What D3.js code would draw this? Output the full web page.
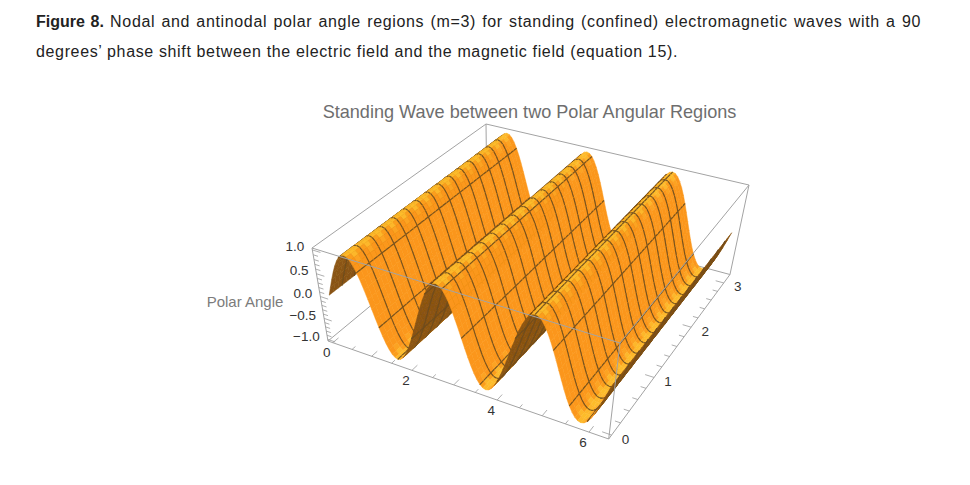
<!DOCTYPE html>
<html><head><meta charset="utf-8">
<script src="https://cdn.jsdelivr.net/npm/d3@7"></script>
<style>html,body{margin:0;padding:0;background:#fff}svg{display:block}text{font-family:"Liberation Sans",Arial,sans-serif}</style>
</head><body><svg id="c" width="970" height="485"><defs><filter id="soft" x="-5%" y="-5%" width="110%" height="110%"><feGaussianBlur stdDeviation="0.3"/></filter></defs></svg>
<script>
// ---- data ----
const captionBold = "Figure 8.";
const captionLine1 = " Nodal and antinodal polar angle regions (m=3) for standing (confined) electromagnetic waves with a 90";
const captionLine2 = "degrees\u2019 phase shift between the electric field and the magnetic field (equation 15).";
const chartTitle = "Standing Wave between two Polar Angular Regions";
const zAxisTitle = "Polar Angle";
const xRange = [0, 2 * Math.PI];
const yRange = [0, Math.PI];
const xBox = [-0.126, 6.409];
const yBox = [-0.063, 3.205];
const zBox = [-1.04, 1.04];
// wave height across the ridges, 97 samples across the x range
const waveHeight = [
 0,.195,.383,.556,.707,.831,.924,.981,1,.981,.924,.831,.707,.556,.383,.195,
 0,-.195,-.383,-.556,-.707,-.831,-.924,-.981,-1,-.981,-.924,-.831,-.707,-.556,-.383,-.195,
 0,.195,.383,.556,.707,.831,.924,.981,1,.981,.924,.831,.707,.556,.383,.195,
 0,-.195,-.383,-.556,-.707,-.831,-.924,-.981,-1,-.981,-.924,-.831,-.707,-.556,-.383,-.195,
 0,.195,.383,.556,.707,.831,.924,.981,1,.981,.924,.831,.707,.556,.383,.195,
 0,-.195,-.383,-.556,-.707,-.831,-.924,-.981,-1,-.981,-.924,-.831,-.707,-.556,-.383,-.195,
 0];
const yStations = 45;      // cells along the ridges
const xMeshEvery = 6, yMeshEvery = 3; // mesh line spacing, in cells

// ---- view: where the box corners fall on the page ----
const O=[312,248], Pu=[620,343], Pv=[486,124], P11=[749,185], Pw=[328,341], Q=[613,439];
const sub=(p,q)=>[p[0]-q[0],p[1]-q[1]];
const r1=[Pu[0]+Pv[0]-O[0]-P11[0],Pu[1]+Pv[1]-O[1]-P11[1]];
const A1=sub(P11,Pu),B1=sub(P11,Pv),det=A1[0]*B1[1]-A1[1]*B1[0];
const a=(r1[0]*B1[1]-r1[1]*B1[0])/det,b=(A1[0]*r1[1]-A1[1]*r1[0])/det;
const c=((1+a)*Pu[1]+Pw[1]-O[1]-(1+a)*Q[1])/(Q[1]-Pw[1]);
function proj(u,v,w){
  const d=1+a*u+b*v+c*w;
  return [0,1].map(i=>(O[i]+u*((1+a)*Pu[i]-O[i])+v*((1+b)*Pv[i]-O[i])+w*((1+c)*Pw[i]-O[i]))/d);
}
const sx=d3.scaleLinear().domain(xBox).range([0,1]);
const sy=d3.scaleLinear().domain(yBox).range([0,1]);
const sz=d3.scaleLinear().domain(zBox).range([1,0]);
const P=(x,y,z)=>proj(sx(x),sy(y),sz(z));
const xGrid=d3.scaleLinear().domain([0,waveHeight.length-1]).range(xRange);
const yGrid=d3.scaleLinear().domain([0,yStations]).range(yRange);

const svg=d3.select("#c");
const line=d3.line();
const edge=(g,p,q,col="#a3a3a3",w=1)=>g.append("line").attr("x1",p[0]).attr("y1",p[1]).attr("x2",q[0]).attr("y2",q[1]).attr("stroke",col).attr("stroke-width",w);
const [x0,x1]=xBox,[y0,y1]=yBox,[z0,z1]=zBox;

// back edges
const back=svg.append("g");
[[[x0,y1,z1],[x1,y1,z1]],[[x0,y0,z1],[x0,y1,z1]],[[x0,y1,z0],[x0,y1,z1]],[[x1,y1,z0],[x1,y1,z1]],[[x0,y1,z0],[x1,y1,z0]],[[x0,y0,z0],[x0,y1,z0]]]
 .forEach(([p,q])=>edge(back,P(...p),P(...q)));

// surface
const surf=svg.append("g").attr("filter","url(#soft)");
const topCol=d3.interpolateRgb("#fb961a","#fdbc2c");
const underCol=d3.interpolateRgb("#7c4a10","#a86c18");
const nRows=yStations,nCols=waveHeight.length-1;
const m="#6b4c20";
const clamp=d3.scaleLinear().domain([0,1]).range([0,1]).clamp(true);
for(let j=nRows-1;j>=0;j--){
  let prevTop=null;
  for(let i=0;i<nCols;i++){
    const xa=xGrid(i),xb=xGrid(i+1),ya=yGrid(j),yb=yGrid(j+1);
    const za=waveHeight[i],zb=waveHeight[i+1];
    const p00=P(xa,ya,za),p10=P(xb,ya,zb),p11=P(xb,yb,zb),p01=P(xa,yb,za);
    const e=sub(p11,p00),f=sub(p01,p10);
    const cross=e[0]*f[1]-e[1]*f[0];
    const slope=(zb-za)/(xb-xa);
    const flat=1/Math.sqrt(1+slope*slope*1.2);
    const phase=((j+.5)/yMeshEvery)%1;
    const thr=.42+.35*Math.abs(phase-.5)*2;   // highlight scallops between mesh lines
    const isTop=cross<0;
    const col=isTop?topCol(clamp((flat-thr)/.35)):underCol(flat*.9);
    surf.append("path").attr("d",line([p00,p10,p11,p01])+"Z").attr("fill",col).attr("stroke",col).attr("stroke-width",.5);
    if(prevTop===false&&isTop&&i>nCols/3) edge(surf,p00,p01,"#74470f",1.4);
    if(j%yMeshEvery===0&&j>0) edge(surf,p00,p10,m,1.05).attr("stroke-opacity",.9);
    if((j+1)%yMeshEvery===0&&j+1<nRows) edge(surf,p01,p11,m,1.05).attr("stroke-opacity",.9);
    if(i%xMeshEvery===0&&i>0) edge(surf,p00,p01,m,1.05).attr("stroke-opacity",.9);
    if((i+1)%xMeshEvery===0&&i+1<nCols) edge(surf,p10,p11,m,1.05).attr("stroke-opacity",.9);
    prevTop=isTop;
  }
}

// front edges
const front=svg.append("g");
[[[x0,y0,z1],[x1,y0,z1]],[[x1,y0,z1],[x1,y1,z1]],[[x1,y0,z0],[x1,y0,z1]],[[x0,y0,z0],[x1,y0,z0]],[[x1,y0,z0],[x1,y1,z0]],[[x0,y0,z0],[x0,y0,z1]]]
 .forEach(([p,q])=>edge(front,P(...p),P(...q)));

// axes: ticks and labels through the scales
const tickCol="#9a9a9a",labelCol="#333",fs=13.5;
const label=(p,dx,dy,t,anchor="middle")=>svg.append("text").attr("x",p[0]+dx).attr("y",p[1]+dy).attr("text-anchor",anchor).attr("dominant-baseline","central").attr("font-size",fs).attr("fill",labelCol).text(t);
const invX=sx.invert,invY=sy.invert;
d3.scaleLinear().domain([0,6]).ticks(12).forEach(t=>{
  const maj=Number.isInteger(t),L=maj?.03:.018;
  edge(svg,P(t,y0,z0),P(t,invY(L),z0),tickCol,.8);
  if(maj&&t%2===0) label(P(t,y0,z0),-6,10,t);
});
d3.scaleLinear().domain([0,3]).ticks(15).forEach(t=>{
  const maj=Number.isInteger(t),L=maj?.03:.018;
  edge(svg,P(x1,t,z0),P(invX(1-L),t,z0),tickCol,.8);
  if(maj) label(P(x1,t,z0),14,4,t);
});
const fmt=d3.format(".1f");
d3.scaleLinear().domain([-1,1]).ticks(20).forEach(t=>{
  const maj=Math.abs(t*2-Math.round(t*2))<1e-9,L=maj?.03:.018;
  edge(svg,P(x0,y0,t),P(invX(L),y0,t),tickCol,.8);
  if(maj) label(P(x0,y0,t),-8,-3,fmt(t),"end");
});
svg.append("text").attr("x",245).attr("y",301).attr("text-anchor","middle").attr("dominant-baseline","central").attr("font-size",15).attr("fill","#7c7c7c").text(zAxisTitle);
svg.append("text").attr("x",529.5).attr("y",112).attr("text-anchor","middle").attr("dominant-baseline","central").attr("font-size",18.1).attr("fill","#6e6e6e").text(chartTitle);

// caption
const capFs=16, ls=.65;
const t1=svg.append("text").attr("x",36).attr("y",27).attr("font-size",capFs).attr("fill","#222").attr("xml:space","preserve");
t1.append("tspan").attr("font-weight","bold").attr("letter-spacing",0).text(captionBold);
t1.append("tspan").attr("letter-spacing",ls).text(captionLine1);
const words=(captionBold+captionLine1).split(" ").length-1;
t1.attr("word-spacing",(921-36-t1.node().getComputedTextLength())/words);
const t2=svg.append("text").attr("x",36).attr("y",57).attr("font-size",capFs).attr("fill","#222").attr("letter-spacing",ls).text(captionLine2);
const w2=(captionLine2).split(" ").length-1;
t2.attr("word-spacing",(678-36-t2.node().getComputedTextLength())/w2);
</script></body></html>
